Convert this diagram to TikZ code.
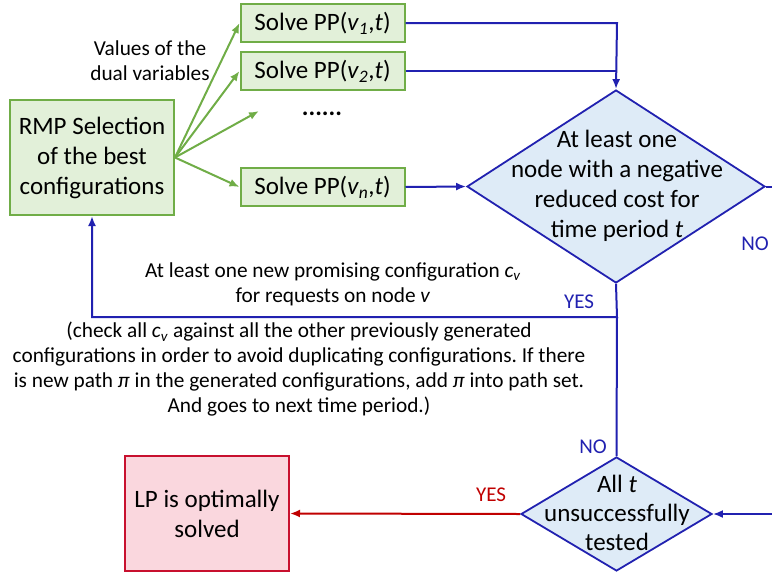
\documentclass[tikz,border=0pt]{standalone}
\usepackage{fontspec}
\setmainfont{Carlito}
\frenchspacing
\usetikzlibrary{shapes.geometric,arrows.meta}
\definecolor{gline}{HTML}{70AD47}
\definecolor{gfill}{HTML}{E2F0D9}
\definecolor{bline}{HTML}{2121B0}
\definecolor{bfill}{HTML}{DEEBF7}
\definecolor{rline}{HTML}{C8102E}
\definecolor{rfill}{HTML}{FAD7DE}
\definecolor{rarrow}{HTML}{C00000}
\begin{document}
\begin{tikzpicture}[x=1pt,y=-1pt,
  big/.style={font=\fontsize{25}{30}\selectfont},
  gbox/.style={draw=gline,fill=gfill,line width=2pt,align=center,inner sep=0pt,big},
  ppbox/.style={gbox,minimum width=164pt,minimum height=38pt},
  dia/.style={diamond,draw=bline,fill=bfill,line width=1.8pt,inner sep=0pt},
  garrow/.style={draw=gline,line width=2pt,-{Latex[length=10pt,width=8pt]}},
  bconn/.style={draw=bline,line width=2pt},
  barrow/.style={bconn,-{Latex[length=10pt,width=8pt]}},
  rarr/.style={draw=rarrow,line width=2pt,-{Latex[length=10pt,width=8pt]}},
  lbl/.style={font=\fontsize{21.3}{25}\selectfont,align=center,inner sep=0pt},
  yn/.style={font=\fontsize{21}{24}\selectfont,inner sep=0pt}
]
\useasboundingbox (0,0) rectangle (772,574);

% boxes
\node[gbox,minimum width=164pt,minimum height=115pt] (rmp) at (92,157.5) {RMP Selection\\of the best\\configurations};
\node[ppbox] (pp1) at (322.5,23) {Solve PP(\textit{v}\textsubscript{\textit{1}},\textit{t})};
\node[ppbox] (pp2) at (322.5,71) {Solve PP(\textit{v}\textsubscript{\textit{2}},\textit{t})};
\node[ppbox] (ppn) at (322.5,187) {Solve PP(\textit{v}\textsubscript{\textit{n}},\textit{t})};
\node[big,inner sep=0pt] (dots) at (322,114) {\textbf{......}};
\coordinate (dotsin) at (259,111);

\node[lbl] (vals) at (150,61) {Values of the\\dual variables};

% diamonds
\node[dia,minimum width=298pt,minimum height=193pt] (d1) at (616,186.5) {};
\node[big,align=center,inner sep=0pt] (d1t) at (617,186) {At least one\\node with a negative\\reduced cost for\\time period \textit{t}};
\node[dia,minimum width=191pt,minimum height=114pt] (d2) at (616.5,514) {};
\node[font=\fontsize{25}{29}\selectfont,align=center,inner sep=0pt] (d2t) at (617,513) {All \textit{t}\\unsuccessfully\\tested};

\node[draw=rline,fill=rfill,line width=2pt,minimum width=164pt,minimum height=115pt,align=center,inner sep=0pt,big] (lp) at (207,513.5) {LP is optimally\\solved};

% green arrows
\draw[garrow] (rmp.east) -- (pp1.west);
\draw[garrow] (rmp.east) -- (pp2.west);
\draw[garrow] (rmp.east) -- (dotsin);
\draw[garrow] (rmp.east) -- (ppn.west);

% blue connectors
\coordinate (j1) at (617,23);
\coordinate (j2) at (617,71);
\coordinate (j3) at (617,317);
\coordinate (j4) at (92,317);
\coordinate (r1) at (772,186.5);
\coordinate (r2) at (772,514);
\draw[barrow] (pp1.east) -- (j1) -- (d1.north);
\draw[bconn] (pp2.east) -- (j2);
\draw[barrow] (ppn.east) -- (d1.west);
\draw[bconn] (d1.east) -- (r1);
\draw[barrow] (d1.south) -- (j3) -- (j4) -- (rmp.south);
\draw[bconn] (j3) -- (d2.north);
\draw[barrow] (r2) -- (d2.east);
\draw[rarr] (d2.west) -- (lp.east);

% labels
\node[yn,text=bline] (no1) at (755,244) {NO};
\node[yn,text=bline] (yes1) at (579,302) {YES};
\node[yn,text=bline] (no2) at (593,447) {NO};
\node[yn,text=rarrow] (yes2) at (491,495) {YES};

\node[lbl] (prom) at (333,284.5) {At least one new promising configuration \textit{c}\textsubscript{\textit{v}}\\for requests on node \textit{v}};
\node[lbl] (chk) at (299,369.5) {(check all \textit{c}\textsubscript{\textit{v}} against all the other previously generated\\configurations in order to avoid duplicating configurations. If there\\is new path \textit{π} in the generated configurations, add \textit{π} into path set.\\And goes to next time period.)};
\end{tikzpicture}
\end{document}
